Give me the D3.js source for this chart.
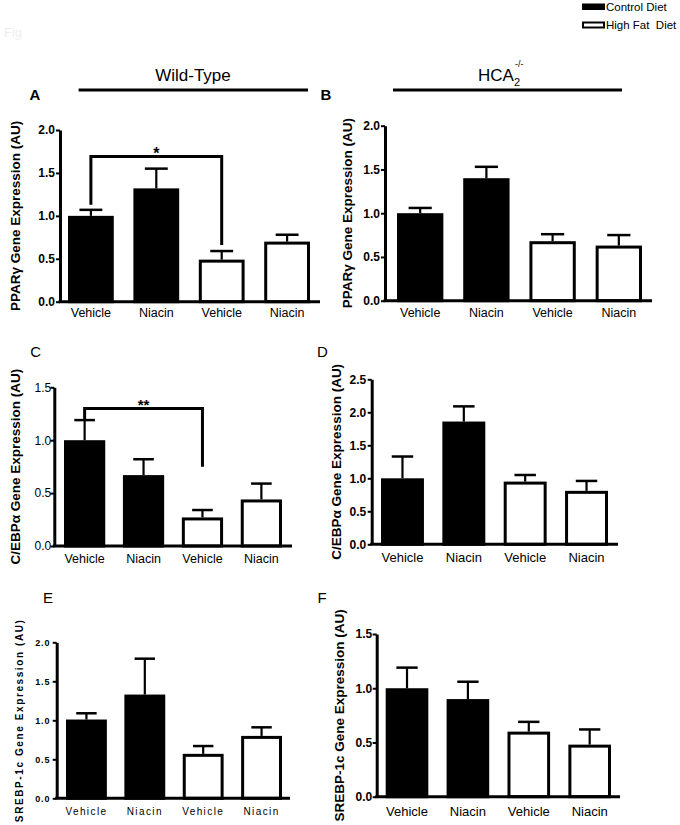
<!DOCTYPE html>
<html><head><meta charset="utf-8">
<script src="https://cdn.jsdelivr.net/npm/d3@7"></script>
<style>body{margin:0;background:#fff} svg{display:block}</style>
</head><body><svg id="c" width="680" height="825"></svg>
<script>
// ---------- data ----------
const categories = ["Vehicle", "Niacin", "Vehicle", "Niacin"];
const diet = ["control", "control", "highfat", "highfat"];
const legendLabels = ["Control Diet", "High Fat  Diet"];
const groupTitles = ["Wild-Type", "HCA"];

const pparWT = [1.00, 1.32, 0.49, 0.70];
const pparWTErr = [0.07, 0.23, 0.10, 0.08];
const pparKO = [1.00, 1.40, 0.68, 0.63];
const pparKOErr = [0.06, 0.13, 0.08, 0.12];
const cebpWT = [1.00, 0.67, 0.27, 0.44];
const cebpWTErr = [0.19, 0.15, 0.07, 0.15];
const cebpKO = [1.00, 1.86, 0.95, 0.81];
const cebpKOErr = [0.33, 0.23, 0.10, 0.15];
const srebpWT = [1.01, 1.33, 0.57, 0.80];
const srebpWTErr = [0.08, 0.46, 0.10, 0.11];
const srebpKO = [1.00, 0.90, 0.60, 0.48];
const srebpKOErr = [0.19, 0.16, 0.09, 0.14];

const ticks20 = [0, 0.5, 1.0, 1.5, 2.0];
const ticks15 = [0, 0.5, 1.0, 1.5];
const ticks25 = [0, 0.5, 1.0, 1.5, 2.0, 2.5];

// significance brackets: [from bar, to bar, bracket level, left leg end, right leg end, label]
const sigA = [0, 2, 1.69, 1.13, 0.66, "*"];
const sigC = [0, 2, 1.30, 1.20, 0.75, "**"];

// ---------- layout ----------
const FONT = "'Liberation Sans', Arial, Helvetica, sans-serif";
const svg = d3.select("#c").style("font-family", FONT);

const panels = [
  {mean: pparWT, err: pparWTErr, ticks: ticks20, max: 2, axisX: 60, axisEnd: 320, y0: 301.7, yTop: 130, b0: 68, b1: 310,
   title: "PPARγ Gene Expression (AU)", titleX: 20, titleStyle: {size: 13.5, weight: "bold", ls: 0},
   tickStyle: {size: 12, weight: "bold", ls: 0}, tickGap: 5, catStyle: {size: 12.5, weight: "normal", ls: 0}, catDy: 15.5,
   label: "A", lx: 35, ly: 100, lweight: "bold", sig: sigA, sigSize: 16},
  {mean: pparKO, err: pparKOErr, ticks: ticks20, max: 2, axisX: 385, axisEnd: 652, y0: 300.7, yTop: 125.7, b0: 397, b1: 642,
   title: "PPARγ Gene Expression (AU)", titleX: 352, titleStyle: {size: 13.5, weight: "bold", ls: 0},
   tickStyle: {size: 12, weight: "bold", ls: 0}, tickGap: 5, catStyle: {size: 12.5, weight: "normal", ls: 0}, catDy: 16,
   label: "B", lx: 326, ly: 100, lweight: "bold"},
  {mean: cebpWT, err: cebpWTErr, ticks: ticks15, max: 1.5, axisX: 54.3, axisEnd: 292, y0: 546, yTop: 387.3, b0: 64, b1: 282,
   title: "C/EBPα Gene Expression (AU)", titleX: 20, titleStyle: {size: 13.5, weight: "bold", ls: 0},
   tickStyle: {size: 12, weight: "normal", ls: 0}, tickGap: 3, catStyle: {size: 12.5, weight: "normal", ls: 0}, catDy: 17,
   label: "C", lx: 35.7, ly: 357, lweight: "normal", sig: sigC, sigSize: 15},
  {mean: cebpKO, err: cebpKOErr, ticks: ticks25, max: 2.5, axisX: 371.7, axisEnd: 618, y0: 544.3, yTop: 379.3, b0: 381, b1: 608,
   title: "C/EBPα Gene Expression (AU)", titleX: 341, titleStyle: {size: 13.5, weight: "bold", ls: 0},
   tickStyle: {size: 12, weight: "bold", ls: 0}, tickGap: 5.5, catStyle: {size: 13, weight: "normal", ls: 0}, catDy: 18,
   label: "D", lx: 322.5, ly: 357, lweight: "normal"},
  {mean: srebpWT, err: srebpWTErr, ticks: ticks20, max: 2, axisX: 56.7, axisEnd: 290, y0: 798.3, yTop: 642.3, b0: 66, b1: 282,
   title: "SREBP-1c Gene Expression (AU)", titleX: 23, titleStyle: {size: 10, weight: "bold", ls: 1.6},
   tickStyle: {size: 9, weight: "bold", ls: 0.8}, tickGap: 6.5, catStyle: {size: 10, weight: "normal", ls: 1.4}, catDy: 17,
   label: "E", lx: 48, ly: 603, lweight: "normal"},
  {mean: srebpKO, err: srebpKOErr, ticks: ticks15, max: 1.5, axisX: 376.7, axisEnd: 620, y0: 796.7, yTop: 634, b0: 385.7, b1: 611,
   title: "SREBP-1c Gene Expression (AU)", titleX: 344, titleStyle: {size: 13.5, weight: "bold", ls: 0},
   tickStyle: {size: 12, weight: "bold", ls: 0}, tickGap: 4.5, catStyle: {size: 13, weight: "normal", ls: 0}, catDy: 19,
   label: "F", lx: 322, ly: 603, lweight: "normal"}
];

function styleText(sel, s) {
  sel.attr("font-size", s.size).attr("font-weight", s.weight).attr("letter-spacing", s.ls)
     .attr("font-family", FONT).attr("fill", "#000");
}

function drawPanel(p) {
  const g = svg.append("g");
  const x = d3.scaleBand().domain(d3.range(categories.length)).range([p.b0, p.b1]).paddingInner(0.3).paddingOuter(0);
  const y = d3.scaleLinear().domain([0, p.max]).range([p.y0, p.yTop]);
  const bw = x.bandwidth();

  // error bars (drawn first; bars cover the lower part)
  const eb = g.append("g").attr("stroke", "#000").attr("fill", "none");
  eb.selectAll("line.v").data(p.mean).join("line")
    .attr("x1", (d, i) => x(i) + bw / 2).attr("x2", (d, i) => x(i) + bw / 2)
    .attr("y1", d => y(d)).attr("y2", (d, i) => y(d + p.err[i]))
    .attr("stroke-width", 2.2);
  eb.selectAll("line.c").data(p.mean).join("line")
    .attr("x1", (d, i) => x(i) + bw / 4).attr("x2", (d, i) => x(i) + bw * 3 / 4)
    .attr("y1", (d, i) => y(d + p.err[i])).attr("y2", (d, i) => y(d + p.err[i]))
    .attr("stroke-width", 2.5);

  // bars
  g.selectAll("rect.bar").data(p.mean).join("rect")
    .attr("x", (d, i) => x(i) + 1.5).attr("width", bw - 3)
    .attr("y", d => y(d) + 1.5).attr("height", d => p.y0 - y(d) - 1.5)
    .attr("fill", (d, i) => diet[i] === "control" ? "#000" : "#fff")
    .attr("stroke", "#000").attr("stroke-width", 3);

  // y axis
  const ay = g.append("g").attr("transform", `translate(${p.axisX},0)`)
    .call(d3.axisLeft(y).tickValues(p.ticks).tickFormat(d3.format(".1f")).tickSize(4).tickSizeOuter(0).tickPadding(p.tickGap - 4));
  ay.select(".domain").attr("stroke", "#000").attr("stroke-width", 3);
  ay.selectAll(".tick line").attr("stroke", "#000").attr("stroke-width", 2);
  ay.selectAll(".tick text").call(styleText, p.tickStyle);

  // x axis
  const ax = g.append("g").attr("transform", `translate(0,${p.y0})`)
    .call(d3.axisBottom(x).tickFormat(i => categories[i]).tickSize(0));
  ax.select(".domain").remove();
  ax.append("line").attr("x1", p.axisX - 1.5).attr("x2", p.axisEnd).attr("y1", 0).attr("y2", 0)
    .attr("stroke", "#000").attr("stroke-width", 3);
  ax.selectAll(".tick text").attr("y", p.catDy).attr("dy", 0).call(styleText, p.catStyle);

  // axis title
  g.append("text").attr("transform", `translate(${p.titleX},${(p.y0 + p.yTop) / 2}) rotate(-90)`)
    .attr("text-anchor", "middle").text(p.title).call(styleText, p.titleStyle);

  // panel letter
  g.append("text").attr("x", p.lx).attr("y", p.ly).attr("text-anchor", "middle")
    .attr("font-size", 15).attr("font-weight", p.lweight).text(p.label);

  // significance bracket
  if (p.sig) {
    const [a, b, lvl, la, lb, lab] = p.sig;
    const xa = x(a) + bw / 2, xb = x(b) + bw / 2;
    g.append("path")
      .attr("d", `M${xa},${y(la)}V${y(lvl)}H${xb}V${y(lb)}`)
      .attr("fill", "none").attr("stroke", "#000").attr("stroke-width", 3);
    g.append("text").attr("x", (xa + xb) / 2).attr("y", y(lvl) + 2).attr("text-anchor", "middle")
      .attr("font-size", p.sigSize).attr("font-weight", "bold").text(lab);
  }
}

panels.forEach(drawPanel);

// ---------- header ----------
const hdr = svg.append("g");
hdr.append("text").attr("x", 4).attr("y", 37).attr("font-size", 13).attr("fill", "#eeeeee").text("Fig");

// group lines and titles
hdr.append("line").attr("x1", 78.6).attr("x2", 308).attr("y1", 90).attr("y2", 90).attr("stroke", "#000").attr("stroke-width", 3);
hdr.append("line").attr("x1", 393).attr("x2", 622).attr("y1", 90).attr("y2", 90).attr("stroke", "#000").attr("stroke-width", 3);
hdr.append("text").attr("x", 193).attr("y", 81).attr("text-anchor", "middle").attr("font-size", 17).text(groupTitles[0]);
const hca = hdr.append("text").attr("x", 478).attr("y", 81).attr("font-size", 17);
hca.append("tspan").text(groupTitles[1]);
hca.append("tspan").attr("font-size", 11).attr("dy", 5).text("2");
hca.append("tspan").attr("font-size", 9).attr("dx", -5).attr("dy", -19).text("-/-");

// legend
const lg = svg.append("g");
lg.append("rect").attr("x", 582).attr("y", 3.5).attr("width", 23).attr("height", 6.5).attr("fill", "#000");
lg.append("rect").attr("x", 583).attr("y", 22.5).attr("width", 21).attr("height", 5).attr("fill", "#fff").attr("stroke", "#000").attr("stroke-width", 2);
lg.append("text").attr("x", 606).attr("y", 11).attr("font-size", 11.5).text(legendLabels[0]);
lg.append("text").attr("x", 606).attr("y", 28.5).attr("font-size", 11.5).attr("xml:space", "preserve").style("white-space", "pre").text(legendLabels[1]);
</script>
</body></html>
